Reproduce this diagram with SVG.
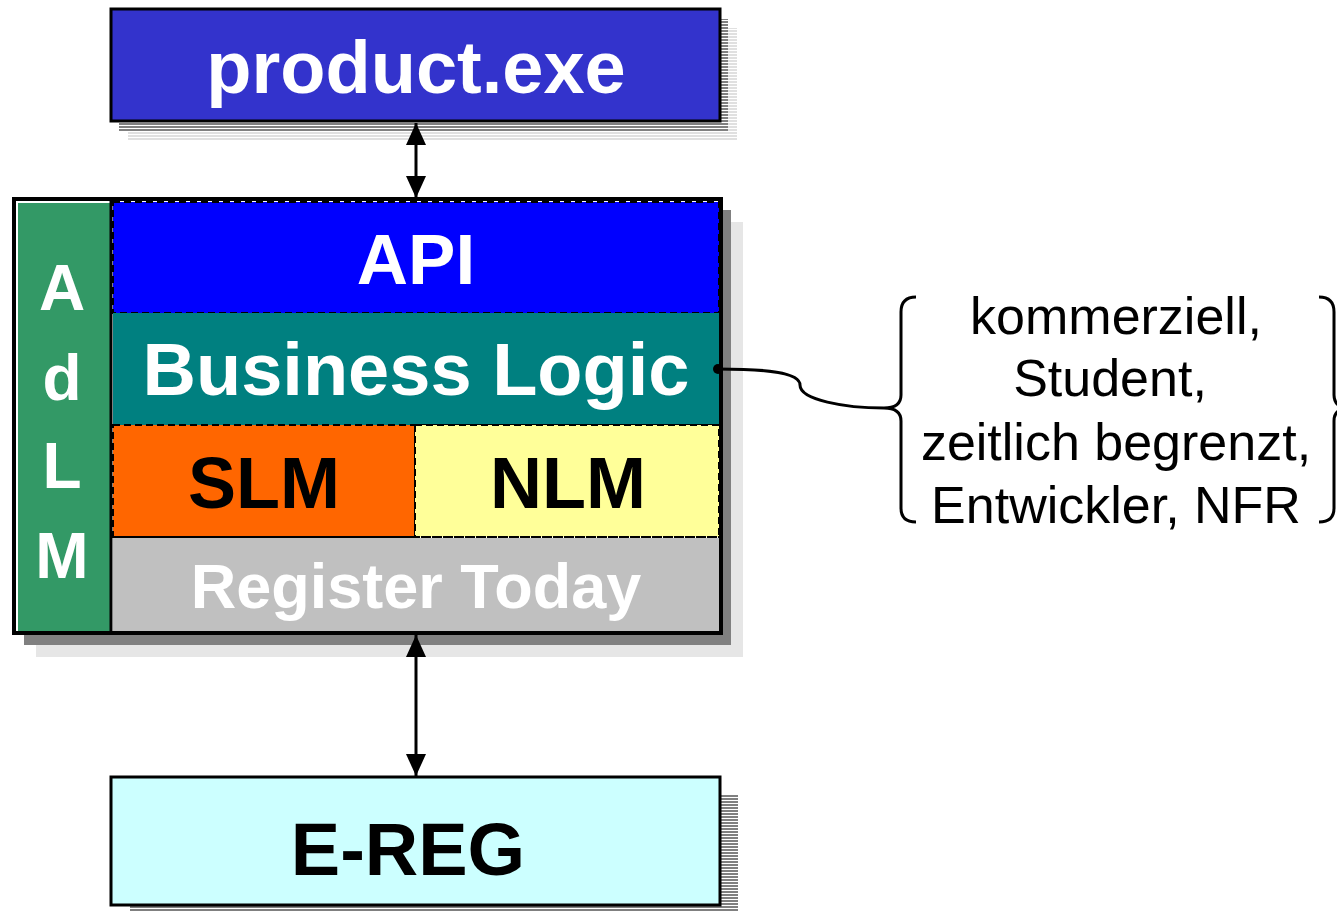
<svg xmlns="http://www.w3.org/2000/svg" width="1337" height="913" viewBox="0 0 1337 913">
<defs>
<pattern id="hatchDark" width="4" height="3" patternUnits="userSpaceOnUse"><rect width="4" height="2" fill="#808080"/></pattern>
<pattern id="hatchLight" width="4" height="3" patternUnits="userSpaceOnUse"><rect width="4" height="2" fill="#e0e0e0"/></pattern>
<marker id="ah" viewBox="0 0 22 20" refX="22" refY="10" markerWidth="22" markerHeight="20" markerUnits="userSpaceOnUse" orient="auto-start-reverse"><path d="M0,0 L22,10 L0,20 Z" fill="#000"/></marker>
</defs>
<style>
.bold{font-family:"Liberation Sans",Arial,sans-serif;font-weight:bold;text-anchor:middle}
.reg{font-family:"Liberation Sans",Arial,sans-serif;text-anchor:middle;font-size:52px;fill:#000}
.dash{stroke:#000;stroke-width:2;stroke-dasharray:7 4}
.line{stroke:#000;stroke-width:3;fill:none}
</style>
<rect width="1337" height="913" fill="#fff"/>

<g id="product">
<rect x="128" y="131" width="609" height="9" fill="url(#hatchLight)"/>
<rect x="728" y="28" width="9" height="112" fill="url(#hatchLight)"/>
<rect x="119" y="121" width="609" height="10" fill="url(#hatchDark)"/>
<rect x="720" y="19" width="8" height="112" fill="url(#hatchDark)"/>
<rect x="111" y="9" width="609" height="112" fill="#3333CC" stroke="#000" stroke-width="3"/>
<text x="416" y="93" class="bold" font-size="74" fill="#fff">product.exe</text>
</g>

<g id="adlm">
<rect x="36" y="222" width="707" height="435" fill="#e6e6e6"/>
<rect x="24" y="210" width="707" height="435" fill="#808080"/>
<rect x="14" y="199" width="707" height="434" fill="#fff" stroke="#000" stroke-width="4"/>
<rect x="18" y="203" width="93" height="428" fill="#339966"/>
<line x1="111" y1="201" x2="111" y2="631" stroke="#000" stroke-width="3"/>
<text x="62" y="310" class="bold" font-size="64" fill="#fff">A</text>
<text x="62" y="400" class="bold" font-size="64" fill="#fff">d</text>
<text x="62" y="488" class="bold" font-size="64" fill="#fff">L</text>
<text x="62" y="578" class="bold" font-size="64" fill="#fff">M</text>
</g>

<g id="api">
<rect x="113" y="202" width="606" height="111" fill="#0000FF" class="dash"/>
<text x="416" y="284" class="bold" font-size="71" fill="#fff">API</text>
</g>

<g id="business">
<rect x="113" y="313" width="606" height="112" fill="#008080"/>
<line x1="113" y1="425" x2="719" y2="425" class="dash"/>
<text x="416" y="395" class="bold" font-size="74" fill="#fff">Business Logic</text>
</g>

<g id="slm">
<rect x="113" y="425" width="302" height="112" fill="#FF6600" class="dash"/>
<text x="264" y="508" class="bold" font-size="72" fill="#000">SLM</text>
</g>

<g id="nlm">
<rect x="415" y="425" width="304" height="112" fill="#FFFF99" class="dash"/>
<text x="568" y="508" class="bold" font-size="72" fill="#000">NLM</text>
</g>

<g id="register">
<rect x="113" y="538" width="606" height="93" fill="#C0C0C0"/>
<line x1="113" y1="537" x2="719" y2="537" class="dash"/>
<text x="416" y="608" class="bold" font-size="63" fill="#fff">Register Today</text>
</g>

<g id="ereg">
<rect x="130" y="905" width="608" height="7" fill="url(#hatchDark)"/>
<rect x="720" y="795" width="18" height="117" fill="url(#hatchDark)"/>
<rect x="111" y="777" width="609" height="128" fill="#CCFFFF" stroke="#000" stroke-width="3"/>
<text x="408" y="875" class="bold" font-size="74" fill="#000">E-REG</text>
</g>

<g id="licenses">
<path d="M916,297 Q901,297 901,312 L901,395 Q901,408 884,408 Q901,408 901,421 L901,508 Q901,522 916,522" class="line"/>
<path d="M1319,297 Q1334,297 1334,312 L1334,395 Q1334,408 1350,408 Q1334,408 1334,421 L1334,508 Q1334,522 1319,522" class="line"/>
<text x="1116" y="334" class="reg">kommerziell,</text>
<text x="1110" y="396" class="reg">Student,</text>
<text x="1116" y="460" class="reg">zeitlich begrenzt,</text>
<text x="1116" y="523" class="reg">Entwickler, NFR</text>
</g>

<g id="connectors">
<line x1="416" y1="123" x2="416" y2="198" stroke="#000" stroke-width="3" marker-start="url(#ah)" marker-end="url(#ah)"/>
<line x1="416" y1="635" x2="416" y2="776" stroke="#000" stroke-width="3" marker-start="url(#ah)" marker-end="url(#ah)"/>
<path d="M718,369 C765,369 800,372 800,385 C800,400 845,408 884,408" class="line"/>
<circle cx="718" cy="369" r="5" fill="#000"/>
</g>
</svg>
